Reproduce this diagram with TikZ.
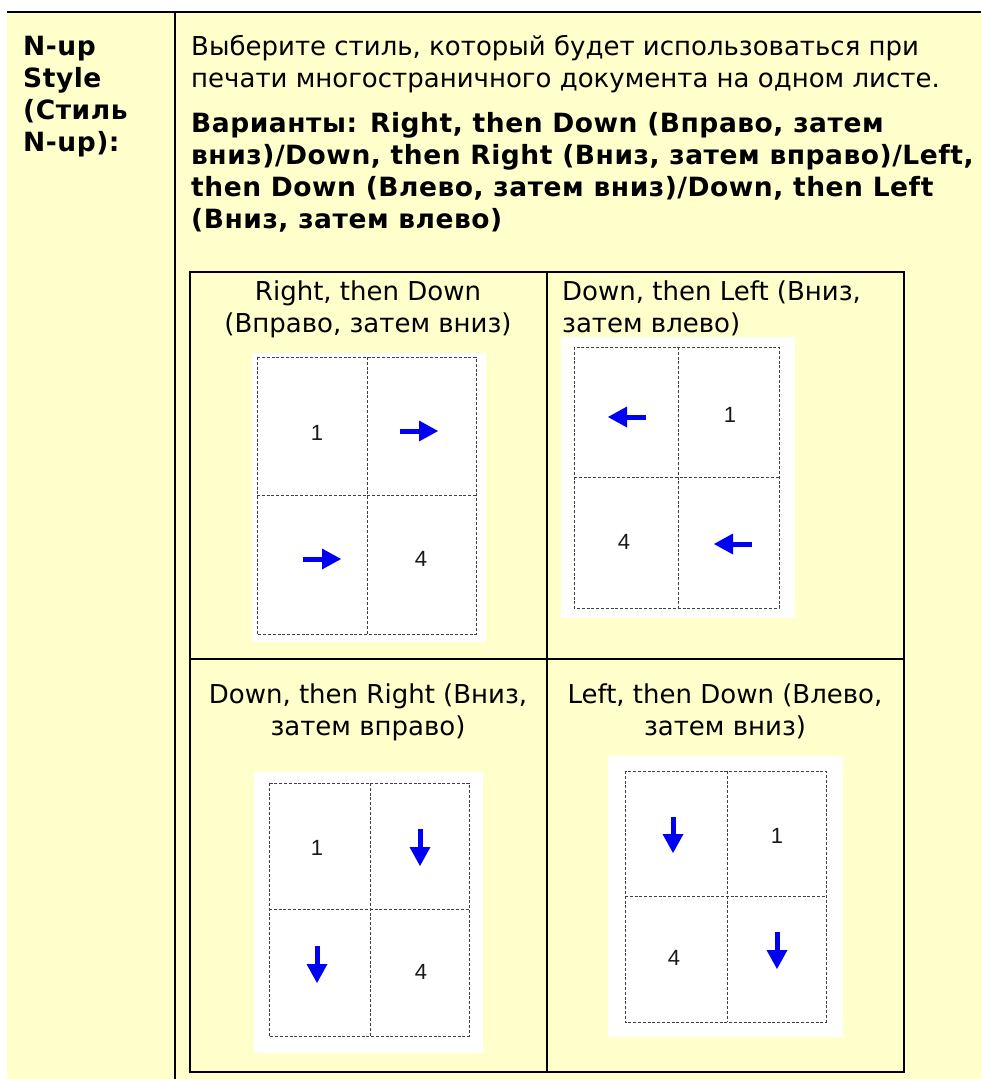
\documentclass[tikz,border=0pt]{standalone}
\usepackage{fontspec}
\setmainfont{DejaVu Sans}
\newfontfamily\numfont{Liberation Sans}
\usetikzlibrary{arrows.meta}
\definecolor{bgyellow}{HTML}{FFFFCC}
\definecolor{dashgray}{HTML}{404040}
\definecolor{arrowblue}{HTML}{0000F2}
\tikzset{
  txt/.style={inner sep=0pt, text=black, font=\fontsize{26}{32}\selectfont},
  btxt/.style={inner sep=0pt, text=black, font=\fontsize{26.5}{32}\selectfont\bfseries\addfontfeatures{LetterSpace=2.0}},
  num/.style={inner sep=0pt, text=black!90, font=\numfont\fontsize{22}{26}\selectfont},
  rulebold/.style={draw=black, line width=2pt},
  sheet/.style={fill=white, draw=none},
  dashbox/.style={draw=dashgray, line width=1pt, dash pattern=on 3pt off 1.8pt},
  flow/.style={draw=arrowblue, line width=5pt,
    -{Triangle[length=19pt,width=21pt,line width=0pt]}},
}
\begin{document}
\begin{tikzpicture}[x=1pt,y=-1pt]
\useasboundingbox (0,0) rectangle (981,1079);
\fill[white] (0,0) rectangle (981,1079);
\fill[bgyellow] (7,12) rectangle (981,1079);
% outer rules
\draw[rulebold] (7,12) -- (981,12);
\draw[rulebold] (175,12) -- (175,1079);

% left column heading
\node[btxt, anchor=base west] (h1) at (23,55) {N-up};
\node[btxt, anchor=base west] (h2) at (23,87) {Style};
\node[btxt, anchor=base west] (h3) at (23,119) {(Стиль};
\node[btxt, anchor=base west] (h4) at (23,151) {N-up):};

% description
\node[txt, anchor=base west] (d1) at (191,55) {Выберите стиль, который будет использоваться при};
\node[txt, anchor=base west] (d2) at (191,87) {печати многостраничного документа на одном листе.};
\node[btxt, anchor=base west] (o1) at (191,132) {Варианты: Right, then Down (Вправо, затем};
\node[btxt, anchor=base west] (o2) at (191,164) {вниз)/Down, then Right (Вниз, затем вправо)/Left,};
\node[btxt, anchor=base west] (o3) at (191,196) {then Down (Влево, затем вниз)/Down, then Left};
\node[btxt, anchor=base west] (o4) at (191,228) {(Вниз, затем влево)};

% inner table
\draw[rulebold] (190,272) rectangle (904,1072);
\draw[rulebold] (546.5,272) -- (546.5,1072);
\draw[rulebold] (190,659) -- (904,659);

% cell titles
\node[txt, anchor=base] (ta1) at (368,300) {Right, then Down};
\node[txt, anchor=base] (ta2) at (368,332) {(Вправо, затем вниз)};
\node[txt, anchor=base west] (tb1) at (562,300) {Down, then Left (Вниз,};
\node[txt, anchor=base west] (tb2) at (562,332) {затем влево)};
\node[txt, anchor=base] (tc1) at (368,703) {Down, then Right (Вниз,};
\node[txt, anchor=base] (tc2) at (368,735) {затем вправо)};
\node[txt, anchor=base] (td1) at (725,703) {Left, then Down (Влево,};
\node[txt, anchor=base] (td2) at (725,735) {затем вниз)};

% ---- picture A: Right, then Down
\fill[sheet] (252,353) rectangle (486,642);
\draw[dashbox] (257,357) rectangle (476,634);
\draw[dashbox] (367,357) -- (367,634);
\draw[dashbox] (257,495) -- (476,495);
\node[num] (a1) at (317,433) {1};
\node[num] (a4) at (421,559) {4};
\draw[flow] (400,431) -- (438,431);
\draw[flow] (303,559) -- (341,559);

% ---- picture B: Down, then Left
\fill[sheet] (561,337) rectangle (795,618);
\draw[dashbox] (574,347) rectangle (779,608);
\draw[dashbox] (678,347) -- (678,608);
\draw[dashbox] (574,477) -- (779,477);
\node[num] (b1) at (730,415) {1};
\node[num] (b4) at (624,542) {4};
\draw[flow] (646,417) -- (608,417);
\draw[flow] (752,544) -- (714,544);

% ---- picture C: Down, then Right
\fill[sheet] (254,772) rectangle (483,1053);
\draw[dashbox] (269,783) rectangle (469,1036);
\draw[dashbox] (370,783) -- (370,1036);
\draw[dashbox] (269,909) -- (469,909);
\node[num] (c1) at (317,848) {1};
\node[num] (c4) at (421,972) {4};
\draw[flow] (420,829) -- (420,866);
\draw[flow] (317,946) -- (317,983);

% ---- picture D: Left, then Down
\fill[sheet] (608,756) rectangle (843,1037);
\draw[dashbox] (625,771) rectangle (826,1022);
\draw[dashbox] (727,771) -- (727,1022);
\draw[dashbox] (625,896) -- (826,896);
\node[num] (e1) at (777,836) {1};
\node[num] (e4) at (674,958) {4};
\draw[flow] (673,817) -- (673,853);
\draw[flow] (777,932) -- (777,969);
\end{tikzpicture}
\end{document}
